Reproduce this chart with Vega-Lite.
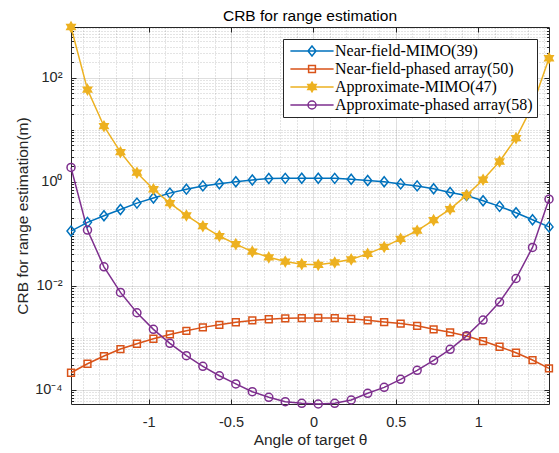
{
  "$schema": "https://vega.github.io/schema/vega-lite/v6.json",
  "width": 478,
  "height": 377,
  "autosize": "none",
  "padding": {"left": 71, "top": 27, "right": 10, "bottom": 49},
  "background": "white",
  "title": {"text": "CRB for range estimation", "font": "Liberation Sans", "fontSize": 15.5, "fontWeight": "normal", "color": "#000000", "frame": "group", "offset": -5, "anchor": "middle"},
  "config": {
    "view": {"stroke": null},
    "font": "Liberation Sans",
    "legend": {"orient": "top-right", "offset": 12, "fillColor": "white", "strokeColor": "#262626", "padding": 4, "symbolOffset": 17, "labelOffset": 15, "labelFont": "Liberation Serif", "labelFontSize": 16, "labelColor": "#000000", "labelLimit": 400, "rowPadding": 2, "symbolSize": 64, "symbolStrokeWidth": 1.5, "symbolStrokeColor": "#000000", "symbolFillColor": "transparent", "symbolOpacity": 1}
  },
  "data": {"values": [
    {"s": "Near-field-MIMO(39)", "x": -1.4708, "y": 0.112},
    {"s": "Near-field-MIMO(39)", "x": -1.3708, "y": 0.165},
    {"s": "Near-field-MIMO(39)", "x": -1.2708, "y": 0.221},
    {"s": "Near-field-MIMO(39)", "x": -1.1708, "y": 0.292},
    {"s": "Near-field-MIMO(39)", "x": -1.0708, "y": 0.387},
    {"s": "Near-field-MIMO(39)", "x": -0.9708, "y": 0.484},
    {"s": "Near-field-MIMO(39)", "x": -0.8708, "y": 0.603},
    {"s": "Near-field-MIMO(39)", "x": -0.7708, "y": 0.718},
    {"s": "Near-field-MIMO(39)", "x": -0.6708, "y": 0.83},
    {"s": "Near-field-MIMO(39)", "x": -0.5708, "y": 0.91},
    {"s": "Near-field-MIMO(39)", "x": -0.4708, "y": 0.996},
    {"s": "Near-field-MIMO(39)", "x": -0.3708, "y": 1.08},
    {"s": "Near-field-MIMO(39)", "x": -0.2708, "y": 1.155},
    {"s": "Near-field-MIMO(39)", "x": -0.1708, "y": 1.16},
    {"s": "Near-field-MIMO(39)", "x": -0.0708, "y": 1.165},
    {"s": "Near-field-MIMO(39)", "x": 0.0292, "y": 1.165},
    {"s": "Near-field-MIMO(39)", "x": 0.1292, "y": 1.16},
    {"s": "Near-field-MIMO(39)", "x": 0.2292, "y": 1.117},
    {"s": "Near-field-MIMO(39)", "x": 0.3292, "y": 1.055},
    {"s": "Near-field-MIMO(39)", "x": 0.4292, "y": 0.996},
    {"s": "Near-field-MIMO(39)", "x": 0.5292, "y": 0.907},
    {"s": "Near-field-MIMO(39)", "x": 0.6292, "y": 0.83},
    {"s": "Near-field-MIMO(39)", "x": 0.7292, "y": 0.73},
    {"s": "Near-field-MIMO(39)", "x": 0.8292, "y": 0.62},
    {"s": "Near-field-MIMO(39)", "x": 0.9292, "y": 0.54},
    {"s": "Near-field-MIMO(39)", "x": 1.0292, "y": 0.43},
    {"s": "Near-field-MIMO(39)", "x": 1.1292, "y": 0.335},
    {"s": "Near-field-MIMO(39)", "x": 1.2292, "y": 0.253},
    {"s": "Near-field-MIMO(39)", "x": 1.3292, "y": 0.185},
    {"s": "Near-field-MIMO(39)", "x": 1.4292, "y": 0.135},
    {"s": "Near-field-phased array(50)", "x": -1.4708, "y": 0.00021},
    {"s": "Near-field-phased array(50)", "x": -1.3708, "y": 0.000313},
    {"s": "Near-field-phased array(50)", "x": -1.2708, "y": 0.000441},
    {"s": "Near-field-phased array(50)", "x": -1.1708, "y": 0.000601},
    {"s": "Near-field-phased array(50)", "x": -1.0708, "y": 0.00076},
    {"s": "Near-field-phased array(50)", "x": -0.9708, "y": 0.000948},
    {"s": "Near-field-phased array(50)", "x": -0.8708, "y": 0.00115},
    {"s": "Near-field-phased array(50)", "x": -0.7708, "y": 0.00135},
    {"s": "Near-field-phased array(50)", "x": -0.6708, "y": 0.00157},
    {"s": "Near-field-phased array(50)", "x": -0.5708, "y": 0.00176},
    {"s": "Near-field-phased array(50)", "x": -0.4708, "y": 0.00197},
    {"s": "Near-field-phased array(50)", "x": -0.3708, "y": 0.00214},
    {"s": "Near-field-phased array(50)", "x": -0.2708, "y": 0.00225},
    {"s": "Near-field-phased array(50)", "x": -0.1708, "y": 0.00234},
    {"s": "Near-field-phased array(50)", "x": -0.0708, "y": 0.00237},
    {"s": "Near-field-phased array(50)", "x": 0.0292, "y": 0.00239},
    {"s": "Near-field-phased array(50)", "x": 0.1292, "y": 0.00237},
    {"s": "Near-field-phased array(50)", "x": 0.2292, "y": 0.00229},
    {"s": "Near-field-phased array(50)", "x": 0.3292, "y": 0.00215},
    {"s": "Near-field-phased array(50)", "x": 0.4292, "y": 0.00199},
    {"s": "Near-field-phased array(50)", "x": 0.5292, "y": 0.00186},
    {"s": "Near-field-phased array(50)", "x": 0.6292, "y": 0.00168},
    {"s": "Near-field-phased array(50)", "x": 0.7292, "y": 0.00144},
    {"s": "Near-field-phased array(50)", "x": 0.8292, "y": 0.00126},
    {"s": "Near-field-phased array(50)", "x": 0.9292, "y": 0.00107},
    {"s": "Near-field-phased array(50)", "x": 1.0292, "y": 0.000857},
    {"s": "Near-field-phased array(50)", "x": 1.1292, "y": 0.000665},
    {"s": "Near-field-phased array(50)", "x": 1.2292, "y": 0.00051},
    {"s": "Near-field-phased array(50)", "x": 1.3292, "y": 0.000369},
    {"s": "Near-field-phased array(50)", "x": 1.4292, "y": 0.000256},
    {"s": "Approximate-MIMO(47)", "x": -1.4708, "y": 950},
    {"s": "Approximate-MIMO(47)", "x": -1.3708, "y": 59.3},
    {"s": "Approximate-MIMO(47)", "x": -1.2708, "y": 11.7},
    {"s": "Approximate-MIMO(47)", "x": -1.1708, "y": 3.7},
    {"s": "Approximate-MIMO(47)", "x": -1.0708, "y": 1.49},
    {"s": "Approximate-MIMO(47)", "x": -0.9708, "y": 0.715},
    {"s": "Approximate-MIMO(47)", "x": -0.8708, "y": 0.387},
    {"s": "Approximate-MIMO(47)", "x": -0.7708, "y": 0.224},
    {"s": "Approximate-MIMO(47)", "x": -0.6708, "y": 0.139},
    {"s": "Approximate-MIMO(47)", "x": -0.5708, "y": 0.09},
    {"s": "Approximate-MIMO(47)", "x": -0.4708, "y": 0.0628},
    {"s": "Approximate-MIMO(47)", "x": -0.3708, "y": 0.0451},
    {"s": "Approximate-MIMO(47)", "x": -0.2708, "y": 0.035},
    {"s": "Approximate-MIMO(47)", "x": -0.1708, "y": 0.029},
    {"s": "Approximate-MIMO(47)", "x": -0.0708, "y": 0.0259},
    {"s": "Approximate-MIMO(47)", "x": 0.0292, "y": 0.0251},
    {"s": "Approximate-MIMO(47)", "x": 0.1292, "y": 0.0279},
    {"s": "Approximate-MIMO(47)", "x": 0.2292, "y": 0.032},
    {"s": "Approximate-MIMO(47)", "x": 0.3292, "y": 0.0409},
    {"s": "Approximate-MIMO(47)", "x": 0.4292, "y": 0.0555},
    {"s": "Approximate-MIMO(47)", "x": 0.5292, "y": 0.0794},
    {"s": "Approximate-MIMO(47)", "x": 0.6292, "y": 0.114},
    {"s": "Approximate-MIMO(47)", "x": 0.7292, "y": 0.182},
    {"s": "Approximate-MIMO(47)", "x": 0.8292, "y": 0.296},
    {"s": "Approximate-MIMO(47)", "x": 0.9292, "y": 0.552},
    {"s": "Approximate-MIMO(47)", "x": 1.0292, "y": 1.09},
    {"s": "Approximate-MIMO(47)", "x": 1.1292, "y": 2.45},
    {"s": "Approximate-MIMO(47)", "x": 1.2292, "y": 6.9},
    {"s": "Approximate-MIMO(47)", "x": 1.3292, "y": 29},
    {"s": "Approximate-MIMO(47)", "x": 1.4292, "y": 238},
    {"s": "Approximate-phased array(58)", "x": -1.4708, "y": 1.88},
    {"s": "Approximate-phased array(58)", "x": -1.3708, "y": 0.117},
    {"s": "Approximate-phased array(58)", "x": -1.2708, "y": 0.023},
    {"s": "Approximate-phased array(58)", "x": -1.1708, "y": 0.0074},
    {"s": "Approximate-phased array(58)", "x": -1.0708, "y": 0.003},
    {"s": "Approximate-phased array(58)", "x": -0.9708, "y": 0.00144},
    {"s": "Approximate-phased array(58)", "x": -0.8708, "y": 0.000773},
    {"s": "Approximate-phased array(58)", "x": -0.7708, "y": 0.000447},
    {"s": "Approximate-phased array(58)", "x": -0.6708, "y": 0.000279},
    {"s": "Approximate-phased array(58)", "x": -0.5708, "y": 0.000184},
    {"s": "Approximate-phased array(58)", "x": -0.4708, "y": 0.000128},
    {"s": "Approximate-phased array(58)", "x": -0.3708, "y": 0.0000908},
    {"s": "Approximate-phased array(58)", "x": -0.2708, "y": 0.0000708},
    {"s": "Approximate-phased array(58)", "x": -0.1708, "y": 0.0000582},
    {"s": "Approximate-phased array(58)", "x": -0.0708, "y": 0.0000543},
    {"s": "Approximate-phased array(58)", "x": 0.0292, "y": 0.0000526},
    {"s": "Approximate-phased array(58)", "x": 0.1292, "y": 0.0000543},
    {"s": "Approximate-phased array(58)", "x": 0.2292, "y": 0.0000628},
    {"s": "Approximate-phased array(58)", "x": 0.3292, "y": 0.0000845},
    {"s": "Approximate-phased array(58)", "x": 0.4292, "y": 0.00011},
    {"s": "Approximate-phased array(58)", "x": 0.5292, "y": 0.000157},
    {"s": "Approximate-phased array(58)", "x": 0.6292, "y": 0.000234},
    {"s": "Approximate-phased array(58)", "x": 0.7292, "y": 0.000365},
    {"s": "Approximate-phased array(58)", "x": 0.8292, "y": 0.000593},
    {"s": "Approximate-phased array(58)", "x": 0.9292, "y": 0.00108},
    {"s": "Approximate-phased array(58)", "x": 1.0292, "y": 0.00217},
    {"s": "Approximate-phased array(58)", "x": 1.1292, "y": 0.00482},
    {"s": "Approximate-phased array(58)", "x": 1.2292, "y": 0.0137},
    {"s": "Approximate-phased array(58)", "x": 1.3292, "y": 0.0543},
    {"s": "Approximate-phased array(58)", "x": 1.4292, "y": 0.461}
  ]},
  "resolve": {"scale": {"shape": "independent", "stroke": "independent", "fill": "independent"}},
  "layer": [
    {
      "mark": {"type": "line", "strokeWidth": 1.5, "clip": false},
      "encoding": {
        "x": {"field": "x", "type": "quantitative",
          "scale": {"domain": [-1.4708, 1.4292], "nice": false, "zero": false},
          "axis": {
            "orient": "bottom",
            "values": [-1.4,-1.3,-1.2,-1.1,-1,-0.9,-0.8,-0.7,-0.6,-0.5,-0.4,-0.3,-0.2,-0.1,0,0.1,0.2,0.3,0.4,0.5,0.6,0.7,0.8,0.9,1,1.1,1.2,1.3,1.4],
            "labelExpr": "abs(datum.value*2-round(datum.value*2))<0.001 ? ((datum.value < -0.01 ? '-' : '') + toString(round(abs(datum.value)*10)/10)) : ''",
            "title": "Angle of target θ",
            "grid": true,
            "gridColor": "#262626",
            "gridOpacity": {"condition": {"test": "abs(datum.value*2-round(datum.value*2))<0.001", "value": 0.15}, "value": 0.25},
            "gridDash": {"condition": {"test": "abs(datum.value*2-round(datum.value*2))<0.001", "value": []}, "value": [1, 2]},
            "gridWidth": 1,
            "tickSize": -5,
            "tickColor": "#262626",
            "tickWidth": 1,
            "tickOpacity": {"condition": {"test": "abs(datum.value*2-round(datum.value*2))<0.001", "value": 1}, "value": 0},
            "domainColor": "#262626",
            "domainWidth": 1,
            "labelFont": "Liberation Sans",
            "labelFontSize": 14.5,
            "labelColor": "#262626",
            "labelPadding": 16,
            "labelFlush": false,
            "labelOverlap": false,
            "labelBound": false,
            "titleFont": "Liberation Sans",
            "titleFontSize": 15.5,
            "titleFontWeight": "normal",
            "titleColor": "#262626",
            "titlePadding": 4
          }},
        "y": {"field": "y", "type": "quantitative",
          "scale": {"type": "log", "domain": [0.0000526, 950], "nice": false},
          "axis": {
            "orient": "left",
            "values": [0.00006,0.00007,0.00008,0.00009,0.0001,0.0002,0.0003,0.0004,0.0005,0.0006,0.0007,0.0008,0.0009,0.001,0.002,0.003,0.004,0.005,0.006,0.007,0.008,0.009,0.01,0.02,0.03,0.04,0.05,0.06,0.07,0.08,0.09,0.1,0.2,0.3,0.4,0.5,0.6,0.7,0.8,0.9,1,2,3,4,5,6,7,8,9,10,20,30,40,50,60,70,80,90,100,200,300,400,500,600,700,800,900],
            "labelExpr": "datum.value==0.0001 ? '10⁻⁴' : datum.value==0.01 ? '10⁻²' : datum.value==1 ? '10⁰' : datum.value==100 ? '10²' : ''",
            "title": "CRB for range estimation(m)",
            "grid": true,
            "gridColor": "#262626",
            "gridOpacity": {"condition": {"test": "abs(log(datum.value)/LN10/2-round(log(datum.value)/LN10/2))<0.001", "value": 0.15}, "value": 0.25},
            "gridDash": {"condition": {"test": "abs(log(datum.value)/LN10/2-round(log(datum.value)/LN10/2))<0.001", "value": []}, "value": [1, 2]},
            "gridWidth": 1,
            "tickSize": {"condition": {"test": "abs(log(datum.value)/LN10/2-round(log(datum.value)/LN10/2))<0.001", "value": -5}, "value": -2.5},
            "tickColor": "#262626",
            "tickWidth": 1,
            "domainColor": "#262626",
            "domainWidth": 1,
            "labelFont": "Liberation Sans",
            "labelFontSize": 14.5,
            "labelColor": "#262626",
            "labelPadding": 14,
            "labelFlush": false,
            "labelOverlap": false,
            "labelBound": false,
            "titleFont": "Liberation Sans",
            "titleFontSize": 15.5,
            "titleFontWeight": "normal",
            "titleColor": "#262626",
            "titlePadding": 4
          }},
        "color": {"field": "s", "type": "nominal",
          "scale": {"domain": ["Near-field-MIMO(39)", "Near-field-phased array(50)", "Approximate-MIMO(47)", "Approximate-phased array(58)"],
                    "range": ["#0072BD", "#D95319", "#EDB120", "#7E2F8E"]},
          "legend": null}
      }
    },
    {
      "mark": {"type": "point", "filled": false, "size": 64, "strokeWidth": 1.5, "opacity": 1, "clip": false},
      "encoding": {
        "x": {"field": "x", "type": "quantitative",
          "axis": {
            "orient": "top",
            "values": [-1.4,-1.3,-1.2,-1.1,-1,-0.9,-0.8,-0.7,-0.6,-0.5,-0.4,-0.3,-0.2,-0.1,0,0.1,0.2,0.3,0.4,0.5,0.6,0.7,0.8,0.9,1,1.1,1.2,1.3,1.4],
            "labels": false, "grid": false, "title": null,
            "tickSize": -5, "tickColor": "#262626", "tickWidth": 1,
            "tickOpacity": {"condition": {"test": "abs(datum.value*2-round(datum.value*2))<0.001", "value": 1}, "value": 0},
            "domainColor": "#262626", "domainWidth": 1
          }},
        "y": {"field": "y", "type": "quantitative",
          "axis": {
            "orient": "right",
            "values": [0.00006,0.00007,0.00008,0.00009,0.0001,0.0002,0.0003,0.0004,0.0005,0.0006,0.0007,0.0008,0.0009,0.001,0.002,0.003,0.004,0.005,0.006,0.007,0.008,0.009,0.01,0.02,0.03,0.04,0.05,0.06,0.07,0.08,0.09,0.1,0.2,0.3,0.4,0.5,0.6,0.7,0.8,0.9,1,2,3,4,5,6,7,8,9,10,20,30,40,50,60,70,80,90,100,200,300,400,500,600,700,800,900],
            "labels": false, "grid": false, "title": null,
            "tickSize": {"condition": {"test": "abs(log(datum.value)/LN10/2-round(log(datum.value)/LN10/2))<0.001", "value": -5}, "value": -2.5},
            "tickColor": "#262626", "tickWidth": 1,
            "domainColor": "#262626", "domainWidth": 1
          }},
        "color": {"field": "s", "type": "nominal", "legend": null},
        "fill": {"condition": {"test": "datum.s === 'Approximate-MIMO(47)'", "value": "#EDB120"}, "value": "transparent"},
        "shape": {"field": "s", "type": "nominal",
          "scale": {"domain": ["Near-field-MIMO(39)", "Near-field-phased array(50)", "Approximate-MIMO(47)", "Approximate-phased array(58)"],
                    "range": ["M0,-1.25L1,0L0,1.25L-1,0Z", "M-0.85,-0.85L0.85,-0.85L0.85,0.85L-0.85,0.85Z", "M0,-1.2L0.346,-0.6L1.039,-0.6L0.693,0L1.039,0.6L0.346,0.6L0,1.2L-0.346,0.6L-1.039,0.6L-0.693,0L-1.039,-0.6L-0.346,-0.6Z", "M1,0A1,1,0,1,1,-1,0A1,1,0,1,1,1,0Z"]},
          "legend": null}
      }
    },
    {
      "transform": [{"filter": "datum.x > 100"}],
      "mark": {"type": "point", "filled": false, "size": 64, "strokeWidth": 1.5, "opacity": 1},
      "encoding": {
        "x": {"field": "x", "type": "quantitative", "axis": null},
        "y": {"field": "y", "type": "quantitative", "axis": null},
        "stroke": {"field": "s", "type": "nominal",
          "scale": {"domain": ["Near-field-MIMO(39)", "Near-field-phased array(50)", "Approximate-MIMO(47)", "Approximate-phased array(58)"],
                    "range": ["#0072BD", "#D95319", "#EDB120", "#7E2F8E"]},
          "legend": {"title": null}},
        "fill": {"field": "s", "type": "nominal",
          "scale": {"domain": ["Near-field-MIMO(39)", "Near-field-phased array(50)", "Approximate-MIMO(47)", "Approximate-phased array(58)"],
                    "range": ["transparent", "transparent", "#EDB120", "transparent"]},
          "legend": {"title": null}},
        "shape": {"field": "s", "type": "nominal",
          "scale": {"domain": ["Near-field-MIMO(39)", "Near-field-phased array(50)", "Approximate-MIMO(47)", "Approximate-phased array(58)"],
                    "range": ["M-5.4,0L5.4,0M0,-1.25L1,0L0,1.25L-1,0Z", "M-5.4,0L5.4,0M-0.85,-0.85L0.85,-0.85L0.85,0.85L-0.85,0.85Z", "M-5.4,0L5.4,0M0,-1.2L0.346,-0.6L1.039,-0.6L0.693,0L1.039,0.6L0.346,0.6L0,1.2L-0.346,0.6L-1.039,0.6L-0.693,0L-1.039,-0.6L-0.346,-0.6Z", "M-5.4,0L5.4,0M1,0A1,1,0,1,1,-1,0A1,1,0,1,1,1,0Z"]},
          "legend": {"title": null}}
      }
    }
  ]
}
